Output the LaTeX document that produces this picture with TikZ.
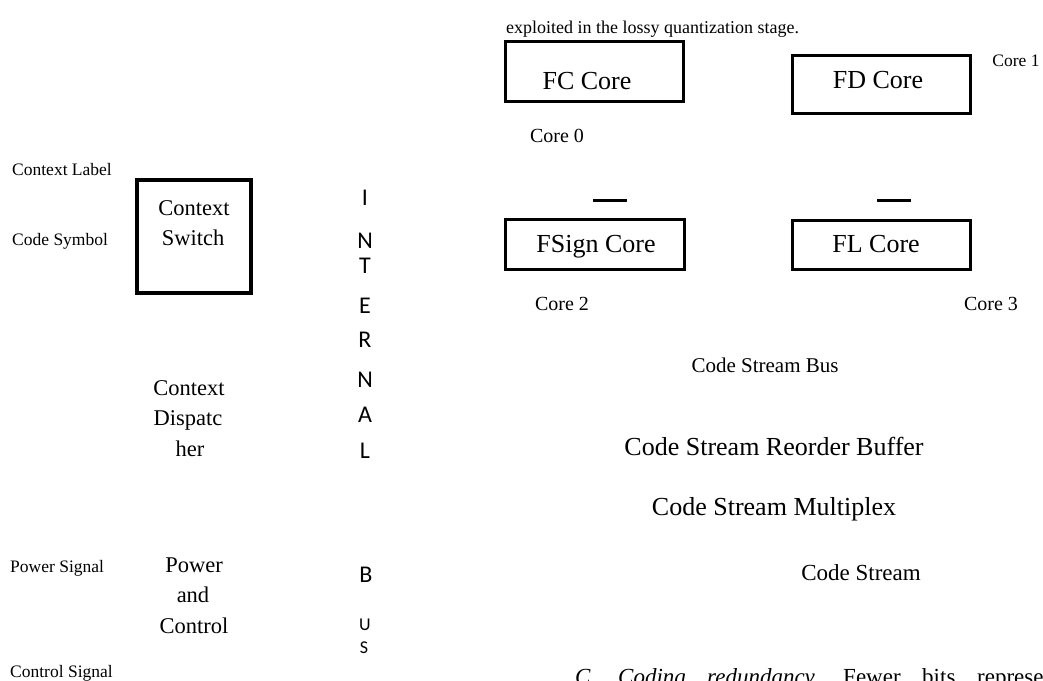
\documentclass[tikz,border=0pt]{standalone}
\usepackage{fontspec}
\setmainfont{Liberation Serif}
\newfontfamily\calib{Carlito}
\begin{document}
\begin{tikzpicture}[x=1pt,y=-1pt,
  boxs/.style={draw, line width=3pt, inner sep=0pt},
  fsz/.style={font=\fontsize{#1}{#1}\selectfont},
  lbl/.style={inner sep=0pt, anchor=base},
  lblw/.style={inner sep=0pt, anchor=base west},
  busl/.style={inner sep=0pt, anchor=base, font=\calib\fontsize{24}{24}\selectfont},
  busm/.style={inner sep=0pt, anchor=base, font=\calib\fontsize{18}{18}\selectfont},
  dashln/.style={line width=3pt}]
\useasboundingbox (0,0) rectangle (1043,680);

% top sentence
\node[lblw, fsz=18] (top) at (506,33) {exploited in the lossy quantization stage.};

% core boxes
\node[boxs, minimum width=178pt, minimum height=60pt] (fc) at (594,71) {};
\node[lbl, fsz=26] (fct) at (587,89) {FC Core};
\node[boxs, minimum width=178pt, minimum height=58pt] (fd) at (881,84) {};
\node[lbl, fsz=26] (fdt) at (878,88) {FD Core};
\node[boxs, minimum width=179pt, minimum height=50pt] (fs) at (594.5,244) {};
\node[lbl, fsz=26] (fst) at (596,252) {FSign Core};
\node[boxs, minimum width=178pt, minimum height=49pt] (fl) at (881,244.5) {};
\node[lbl, fsz=26] (flt) at (876,252) {FL Core};

\node[lbl, fsz=17.5] (c1) at (1016,66) {Core 1};
\node[lbl, fsz=20] (c0) at (557,142) {Core 0};
\node[lbl, fsz=20] (c2) at (562,310) {Core 2};
\node[lbl, fsz=20] (c3) at (991,310) {Core 3};

\coordinate (d1a) at (593,200); \coordinate (d1b) at (627,200);
\coordinate (d2a) at (877,200); \coordinate (d2b) at (911,200);
\draw[dashln] (d1a) -- (d1b);
\draw[dashln] (d2a) -- (d2b);

\node[lbl, fsz=21] (csb) at (765,372) {Code Stream Bus};
\node[lbl, fsz=26] (csr) at (774,455) {Code Stream Reorder Buffer};
\node[lbl, fsz=26] (csm) at (774,515) {Code Stream Multiplex};
\node[lbl, fsz=23] (cs) at (861,580) {Code Stream};

% bottom text, cut by the lower edge as in the source
\node[lblw, fsz=23] (w1) at (575,684) {\textit{C.}};
\node[lblw, fsz=23] (w2) at (618,684) {\textit{Coding}};
\node[lblw, fsz=23] (w3) at (707,684) {\textit{redundancy.}};
\node[lblw, fsz=23] (w4) at (843,684) {Fewer};
\node[lblw, fsz=23] (w5) at (922,684) {bits};
\node[lblw, fsz=23] (w6) at (977,684) {represent};

% left side
\node[lblw, fsz=17.5] (cl) at (12,175) {Context Label};
\node[lblw, fsz=17.5] (csy) at (12,245) {Code Symbol};
\node[lblw, fsz=17.5] (ps) at (10,572) {Power Signal};
\node[lblw, fsz=17.5] (ctl) at (10,677) {Control Signal};

\node[boxs, line width=3.5pt, minimum width=114pt, minimum height=113pt] (sw) at (194,236.5) {};
\node[lbl, fsz=22.5] (sw1) at (194,215) {Context};
\node[lbl, fsz=22.5] (sw2) at (193,245) {Switch};

\node[lbl, fsz=22.5] (dp1) at (189,395) {Context};
\node[lbl, fsz=22.5] (dp2) at (188,425) {Dispatc};
\node[lbl, fsz=22.5] (dp3) at (190,456) {her};

\node[lbl, fsz=22.5] (pc1) at (194,572) {Power};
\node[lbl, fsz=22.5] (pc2) at (193,602) {and};
\node[lbl, fsz=22.5] (pc3) at (194,633) {Control};

% vertical bus label
\node[busl] (i1) at (365,205) {I};
\node[busl] (i2) at (365,248) {N};
\node[busl] (i3) at (365,273) {T};
\node[busl] (i4) at (365,313) {E};
\node[busl] (i5) at (365,347) {R};
\node[busl] (i6) at (365,387) {N};
\node[busl] (i7) at (365,422) {A};
\node[busl] (i8) at (365,458) {L};
\node[busl] (b1) at (366,582) {B};
\node[busm] (b2) at (365,630) {U};
\node[busm] (b3) at (364,653) {S};
\end{tikzpicture}
\end{document}
